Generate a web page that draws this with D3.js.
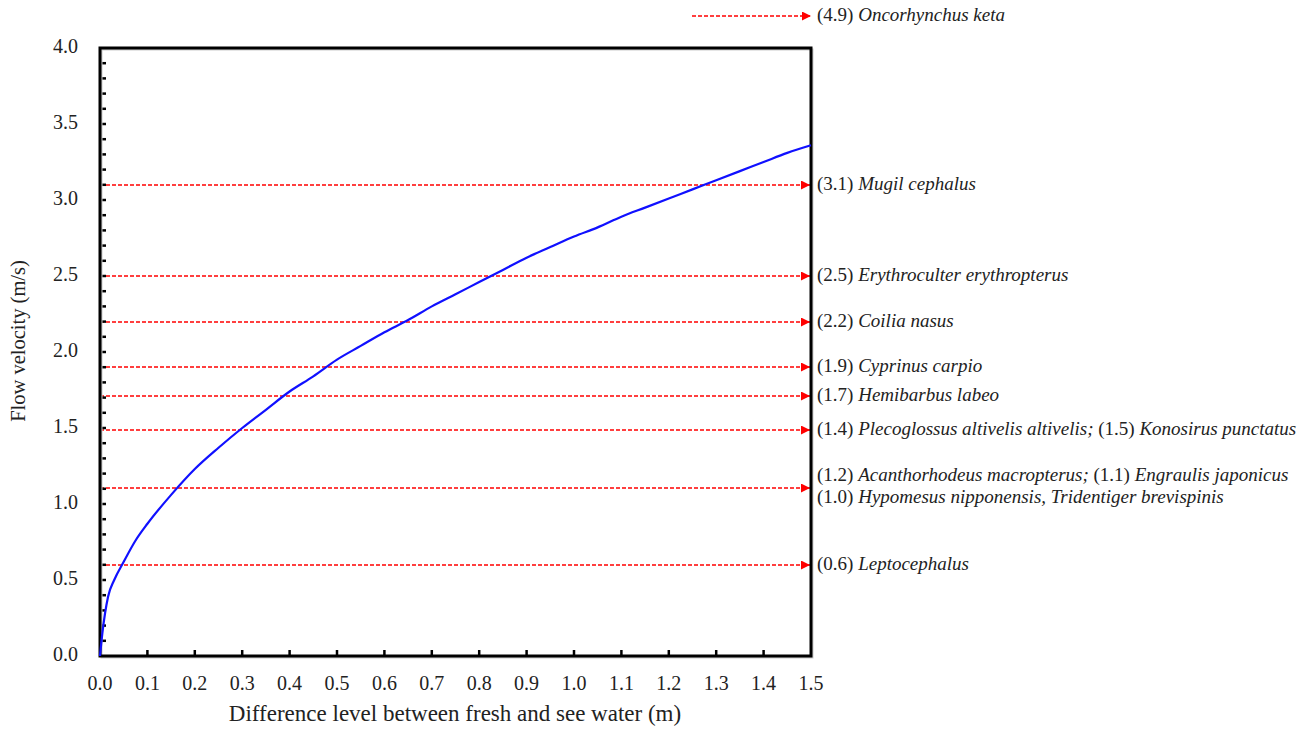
<!DOCTYPE html>
<html><head><meta charset="utf-8">
<script src="https://cdn.jsdelivr.net/npm/d3@7"></script>
<style>body{margin:0;background:#fff}svg{display:block}</style>
</head><body><svg id="c" width="1314" height="730" font-family="'Liberation Serif', 'DejaVu Serif', serif"></svg>
<script>
const headDiff = [0, 0.005, 0.017, 0.03, 0.05, 0.075, 0.1, 0.15, 0.2, 0.25, 0.3, 0.35, 0.4, 0.45, 0.5, 0.55, 0.6, 0.65, 0.7, 0.75, 0.8, 0.85, 0.9, 0.95, 1.0, 1.05, 1.1, 1.15, 1.2, 1.25, 1.3, 1.35, 1.4, 1.45, 1.5];
const velocity = [0, 0.15, 0.39, 0.50, 0.62, 0.76, 0.87, 1.06, 1.23, 1.37, 1.50, 1.62, 1.74, 1.84, 1.95, 2.04, 2.13, 2.21, 2.30, 2.38, 2.46, 2.54, 2.62, 2.69, 2.76, 2.82, 2.89, 2.95, 3.01, 3.07, 3.13, 3.19, 3.25, 3.31, 3.36];
const speciesLevel = [3.1, 2.5, 2.2, 1.9, 1.71, 1.49, 1.105, 0.6];
const speciesLabels = [
  [["(3.1) ", false], ["Mugil cephalus", true]],
  [["(2.5) ", false], ["Erythroculter erythropterus", true]],
  [["(2.2) ", false], ["Coilia nasus", true]],
  [["(1.9) ", false], ["Cyprinus carpio", true]],
  [["(1.7) ", false], ["Hemibarbus labeo", true]],
  [["(1.4) ", false], ["Plecoglossus altivelis altivelis;", true], [" (1.5) ", false], ["Konosirus punctatus", true]],
  null,
  [["(0.6) ", false], ["Leptocephalus", true]]
];
const twoLineLabels = [
  [["(1.2) ", false], ["Acanthorhodeus macropterus;", true], [" (1.1) ", false], ["Engraulis japonicus", true]],
  [["(1.0) ", false], ["Hypomesus nipponensis, Tridentiger brevispinis", true]]
];
const topLabel = [["(4.9) ", false], ["Oncorhynchus keta", true]];
const xTicks = d3.range(0, 1.5001, 0.1);
const yTicks = d3.range(0, 4.0001, 0.5);
const yMinor = d3.range(0, 4.0001, 0.1);

const svg = d3.select("#c");
const m = {l:100, r:811, t:48, b:656};
const x = d3.scaleLinear().domain([0,1.5]).range([m.l, m.r]);
const y = d3.scaleLinear().domain([0,4]).range([m.b, m.t]);
const yc = v => Math.round(y(v));

const defs = svg.append("defs");
defs.append("marker").attr("id","arr").attr("viewBox","0 0 10 10").attr("refX",10).attr("refY",5)
  .attr("markerWidth",9).attr("markerHeight",9).attr("markerUnits","userSpaceOnUse").attr("orient","auto")
  .append("path").attr("d","M0,0L10,5L0,10Z").attr("fill","red");

// red dashed lines
svg.selectAll("line.sp").data(speciesLevel).enter().append("line")
  .attr("x1", m.l).attr("x2", m.r-1).attr("y1", d=>yc(d)).attr("y2", d=>yc(d))
  .attr("stroke","#ff0000").attr("stroke-width",1.3).attr("stroke-dasharray","4,2")
  .attr("marker-end","url(#arr)");

// top arrow
svg.append("line").attr("x1",692).attr("x2",811).attr("y1",16).attr("y2",16)
  .attr("stroke","#ff0000").attr("stroke-width",1.3).attr("stroke-dasharray","4,2")
  .attr("marker-end","url(#arr)");

function rich(g, parts, tx, ty){
  const t = g.append("text").attr("x",tx).attr("y",ty).attr("font-size",19).attr("fill","#222")
    .attr("dominant-baseline","middle").attr("xml:space","preserve");
  parts.forEach(p => t.append("tspan").text(p[0]).attr("font-style", p[1] ? "italic" : "normal"));
}
speciesLabels.forEach((lab,i) => { if (lab) rich(svg, lab, 817, y(speciesLevel[i])+1); });
rich(svg, twoLineLabels[0], 817, y(speciesLevel[6]) - 11);
rich(svg, twoLineLabels[1], 817, y(speciesLevel[6]) + 11);
rich(svg, topLabel, 817, 17);

// ticks inward
svg.selectAll("line.yt").data(yMinor.slice(1, -1)).enter().append("line")
  .attr("x1", m.l).attr("x2", m.l+6).attr("y1", d=>y(d)).attr("y2", d=>y(d))
  .attr("stroke","#000").attr("stroke-width",2.5);
svg.selectAll("line.xt").data(xTicks.slice(1, -1)).enter().append("line")
  .attr("y1", m.b).attr("y2", m.b-6).attr("x1", d=>x(d)).attr("x2", d=>x(d))
  .attr("stroke","#000").attr("stroke-width",2.5);

// frame
svg.append("rect").attr("x",m.l+1.5).attr("y",m.t+1.5).attr("width",m.r-m.l).attr("height",m.b-m.t)
  .attr("fill","none").attr("stroke","#ccc").attr("stroke-width",2);
svg.append("rect").attr("x",m.l).attr("y",m.t).attr("width",m.r-m.l).attr("height",m.b-m.t)
  .attr("fill","none").attr("stroke","#000").attr("stroke-width",3);

// curve
svg.append("path").datum(headDiff.map((h,i)=>[h, velocity[i]]))
  .attr("d", d3.line().x(d=>x(d[0])).y(d=>y(d[1])).curve(d3.curveMonotoneX))
  .attr("fill","none").attr("stroke","#1010ff").attr("stroke-width",2.2);

// tick labels
svg.selectAll("text.yl").data(yTicks).enter().append("text")
  .attr("x", 78).attr("y", d=>y(d)).attr("text-anchor","end").attr("dominant-baseline","middle")
  .attr("font-size",20).attr("fill","#222").text(d=>d3.format(".1f")(d));
svg.selectAll("text.xl").data(xTicks).enter().append("text")
  .attr("x", d=>x(d)).attr("y", 685).attr("text-anchor","middle").attr("dominant-baseline","middle")
  .attr("font-size",20).attr("fill","#222").text(d=>d3.format(".1f")(d));

// axis titles
svg.append("text").attr("x",455).attr("y",716).attr("text-anchor","middle").attr("dominant-baseline","middle")
  .attr("font-size",23).attr("fill","#222").text("Difference level between fresh and see water (m)");
svg.append("text").attr("transform","translate(20,341) rotate(-90)").attr("text-anchor","middle").attr("dominant-baseline","middle")
  .attr("font-size",20.5).attr("fill","#222").text("Flow velocity (m/s)");
</script></body></html>
